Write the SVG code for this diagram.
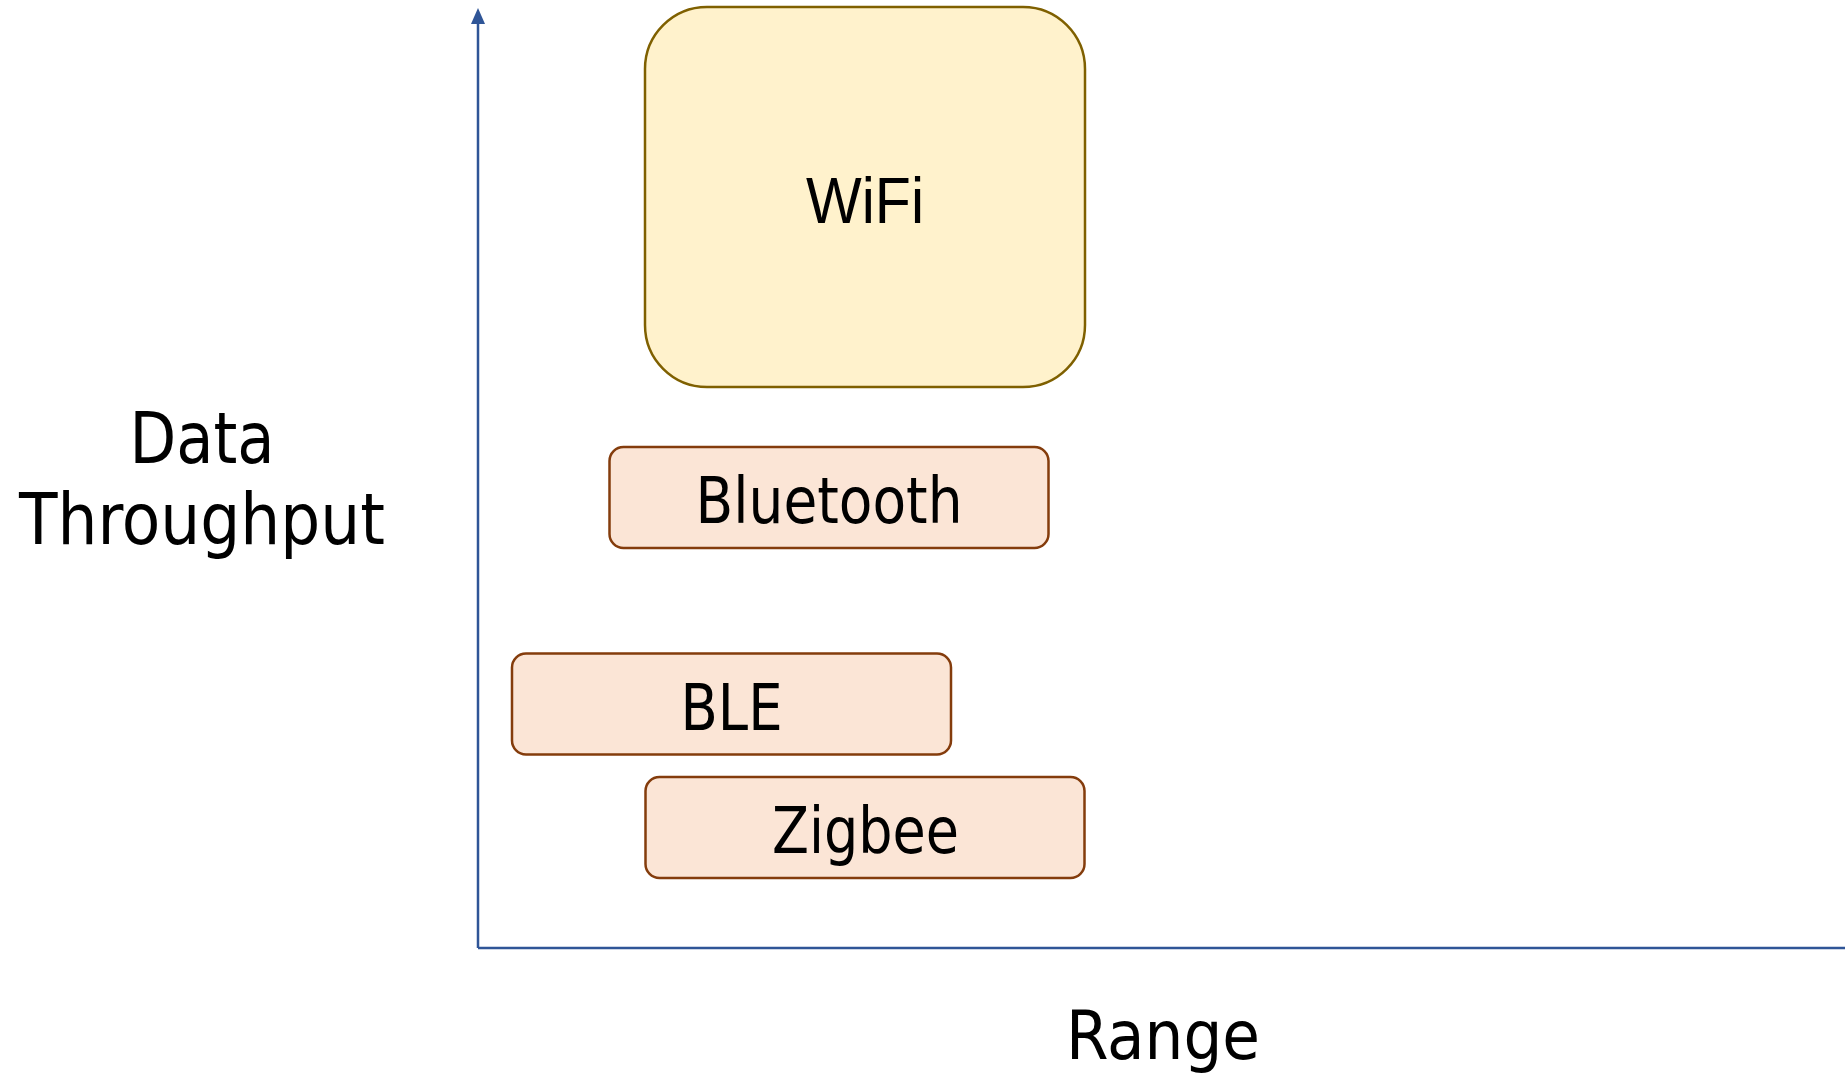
<svg xmlns="http://www.w3.org/2000/svg" width="1845" height="1074" viewBox="0 0 1845 1074">
<defs>
<style>
.wifi{fill:#fff2cc;stroke:#7f6000;stroke-width:2.5}
.tech{fill:#fbe5d6;stroke:#843c0c;stroke-width:2.5}
.axis{stroke:#2f5597;stroke-width:2.5;fill:none}
.t{font-family:"DejaVu Sans Condensed","DejaVu Sans",sans-serif;fill:#000;text-anchor:middle}
.a{font-family:"Liberation Sans",Arial,sans-serif;fill:#000;text-anchor:middle}
</style>
</defs>
<rect width="1845" height="1074" fill="#ffffff"/>
<g id="connectors">
<path class="axis" d="M478,948 L478,22"/>
<path d="M471,24 L478,8 L485,24 Z" fill="#2f5597"/>
<path class="axis" d="M478,948 L1845,948"/>
</g>
<g id="wifi">
<rect class="wifi" x="645" y="7" width="440" height="380" rx="62" ry="62"/>
<text class="a" x="865" y="223" font-size="65" textLength="118" lengthAdjust="spacingAndGlyphs">WiFi</text>
</g>
<g id="bluetooth">
<rect class="tech" x="609.5" y="447" width="439" height="101" rx="14" ry="14"/>
<text class="t" x="829" y="523" font-size="64" textLength="267" lengthAdjust="spacingAndGlyphs">Bluetooth</text>
</g>
<g id="ble">
<rect class="tech" x="512" y="653.5" width="439" height="101" rx="14" ry="14"/>
<text class="t" x="731.5" y="730" font-size="64" textLength="102" lengthAdjust="spacingAndGlyphs">BLE</text>
</g>
<g id="zigbee">
<rect class="tech" x="645.5" y="777" width="439" height="101" rx="14" ry="14"/>
<text class="t" x="865.5" y="853" font-size="64" textLength="187" lengthAdjust="spacingAndGlyphs">Zigbee</text>
</g>
<g id="label-y">
<text class="t" x="202" y="463" font-size="72" textLength="145" lengthAdjust="spacingAndGlyphs">Data</text>
<text class="t" x="202" y="544" font-size="72" textLength="366" lengthAdjust="spacingAndGlyphs">Throughput</text>
</g>
<g id="label-x">
<text class="t" x="1163" y="1059" font-size="68" textLength="194" lengthAdjust="spacingAndGlyphs">Range</text>
</g>
</svg>
